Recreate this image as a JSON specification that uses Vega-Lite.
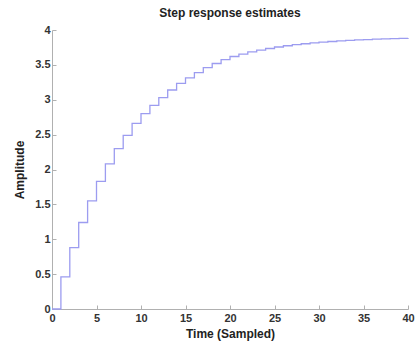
{
  "$schema": "https://vega.github.io/schema/vega-lite/v6.json",
  "autosize": {"type": "none"},
  "padding": {"left": 52, "top": 30, "right": 7, "bottom": 34},
  "width": 356,
  "height": 279,
  "background": "white",
  "title": {
    "text": "Step response estimates",
    "font": "Liberation Sans",
    "fontSize": 12,
    "fontWeight": "bold",
    "color": "#222222",
    "offset": 4,
    "anchor": "middle"
  },
  "config": {
    "view": {"stroke": null},
    "axis": {
      "grid": false,
      "domainColor": "#b0b0b0",
      "tickColor": "#b0b0b0",
      "labelFont": "Liberation Sans",
      "labelFontSize": 11,
      "labelFontWeight": "bold",
      "labelColor": "#333333",
      "titleFont": "Liberation Sans",
      "titleFontSize": 12,
      "titleFontWeight": "bold",
      "titleColor": "#222222",
      "format": "~g"
    }
  },
  "data": {
    "values": [
      {"t": 0, "y": 0},
      {"t": 1, "y": 0.46},
      {"t": 2, "y": 0.88},
      {"t": 3, "y": 1.24},
      {"t": 4, "y": 1.55},
      {"t": 5, "y": 1.83},
      {"t": 6, "y": 2.08},
      {"t": 7, "y": 2.3},
      {"t": 8, "y": 2.49},
      {"t": 9, "y": 2.66},
      {"t": 10, "y": 2.8},
      {"t": 11, "y": 2.92},
      {"t": 12, "y": 3.03},
      {"t": 13, "y": 3.14},
      {"t": 14, "y": 3.235},
      {"t": 15, "y": 3.315},
      {"t": 16, "y": 3.39},
      {"t": 17, "y": 3.46},
      {"t": 18, "y": 3.52},
      {"t": 19, "y": 3.575},
      {"t": 20, "y": 3.62},
      {"t": 21, "y": 3.655},
      {"t": 22, "y": 3.685},
      {"t": 23, "y": 3.712},
      {"t": 24, "y": 3.735},
      {"t": 25, "y": 3.756},
      {"t": 26, "y": 3.774},
      {"t": 27, "y": 3.79},
      {"t": 28, "y": 3.803},
      {"t": 29, "y": 3.815},
      {"t": 30, "y": 3.826},
      {"t": 31, "y": 3.835},
      {"t": 32, "y": 3.843},
      {"t": 33, "y": 3.85},
      {"t": 34, "y": 3.857},
      {"t": 35, "y": 3.863},
      {"t": 36, "y": 3.868},
      {"t": 37, "y": 3.873},
      {"t": 38, "y": 3.877},
      {"t": 39, "y": 3.881},
      {"t": 40, "y": 3.885}
    ]
  },
  "mark": {"type": "line", "interpolate": "step-after", "color": "#9c9cf0", "strokeWidth": 1.3},
  "encoding": {
    "x": {
      "field": "t",
      "type": "quantitative",
      "scale": {"domain": [0, 40], "nice": false, "zero": false},
      "axis": {"values": [0, 5, 10, 15, 20, 25, 30, 35, 40], "title": "Time (Sampled)", "tickSize": -4, "labelPadding": 7, "titlePadding": 5, "labelFlush": false}
    },
    "y": {
      "field": "y",
      "type": "quantitative",
      "scale": {"domain": [0, 4], "nice": false},
      "axis": {"values": [0, 0.5, 1, 1.5, 2, 2.5, 3, 3.5, 4], "title": "Amplitude", "tickSize": -4, "labelPadding": 6, "titlePadding": 8}
    }
  }
}
